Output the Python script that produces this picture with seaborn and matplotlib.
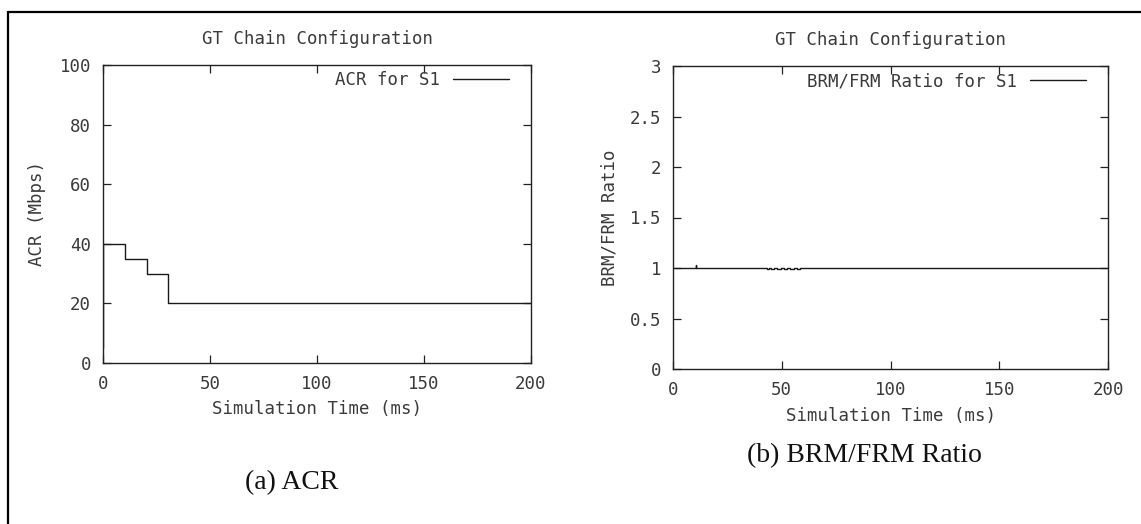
import matplotlib
matplotlib.use("Agg")
import matplotlib.pyplot as plt
from matplotlib.lines import Line2D
import pandas as pd
import seaborn as sns

# ACR of source S1 (step changes over simulation time)
acr_time = [0.0, 0.0, 10.2, 20.5, 30.5, 200.0]
acr_mbps = [5.0, 40.0, 35.0, 30.0, 20.0, 20.0]

# BRM/FRM ratio of source S1
ratio_time = [0.0, 10.0, 10.4, 10.8, 43.0, 44.0, 45.0, 46.5, 48.0, 49.5, 51.0,
              52.5, 54.0, 55.5, 57.0, 58.5, 60.2, 137.5, 200.0]
ratio_val = [1.0, 1.0, 1.03, 1.0, 0.993, 1.0, 0.993, 1.0, 0.993, 1.0, 0.993,
             1.0, 0.993, 1.0, 0.993, 1.0, 0.996, 1.0, 1.0]

x_ticks = [0, 50, 100, 150, 200]
acr_ticks = [0, 20, 40, 60, 80, 100]
ratio_ticks = [0, 0.5, 1, 1.5, 2, 2.5, 3]
ratio_tick_labels = ["0", "0.5", "1", "1.5", "2", "2.5", "3"]

plot_title = "GT Chain Configuration"
x_label = "Simulation Time (ms)"

sns.set_theme(style="white")
plt.rcParams["font.family"] = ["DejaVu Sans Mono", "DejaVu Sans"]
plt.rcParams["text.color"] = "#3a3a3a"
plt.rcParams["axes.labelcolor"] = "#3a3a3a"

W, H = 1141, 524
fig = plt.figure(figsize=(W / 100, H / 100), dpi=100)
fig.patch.set_facecolor("white")


def px_rect(x0, y0, x1, y1):
    return [x0 / W, 1 - y1 / H, (x1 - x0) / W, (y1 - y0) / H]


ax1 = fig.add_axes(px_rect(103, 65, 531, 363))
ax2 = fig.add_axes(px_rect(673, 66, 1108, 369))

line_color = "#1a1a1a"
text_color = "#3a3a3a"
fs = 12.5

acr_df = pd.DataFrame({"time": acr_time, "acr": acr_mbps})
sns.lineplot(data=acr_df, x="time", y="acr", ax=ax1, drawstyle="steps-post",
             color=line_color, linewidth=1.0, label="ACR for S1",
             estimator=None, sort=False)

ratio_df = pd.DataFrame({"time": ratio_time, "ratio": ratio_val})
sns.lineplot(data=ratio_df, x="time", y="ratio", ax=ax2, drawstyle="steps-post",
             color=line_color, linewidth=1.0, label="BRM/FRM Ratio for S1",
             estimator=None, sort=False)

ax1.set_xlim(0, 200)
ax1.set_ylim(0, 100)
ax1.set_xticks(x_ticks)
ax1.set_yticks(acr_ticks)
ax1.set_ylabel("ACR (Mbps)", fontsize=fs, labelpad=10)
ax1.set_xlabel(x_label, fontsize=fs, labelpad=5)

ax2.set_xlim(0, 200)
ax2.set_ylim(0, 3)
ax2.set_xticks(x_ticks)
ax2.set_yticks(ratio_ticks)
ax2.set_yticklabels(ratio_tick_labels)
ax2.set_ylabel("BRM/FRM Ratio", fontsize=fs, labelpad=8)
ax2.set_xlabel(x_label, fontsize=fs, labelpad=6)

for ax, ww, hh in ((ax1, 428, 298), (ax2, 435, 303)):
    ax.set_facecolor("white")
    ax.set_title(plot_title, fontsize=fs, color=text_color, pad=15)
    ax.tick_params(direction="in", length=5.8, width=0.9, color="#222222",
                   top=True, right=True, bottom=True, left=True,
                   labelsize=fs, labelcolor=text_color, pad=8.5)
    for sp in ax.spines.values():
        sp.set_visible(True)
        sp.set_color("#222222")
        sp.set_linewidth(1.0)
    ax.legend(loc="upper right", frameon=False, markerfirst=False,
              fontsize=fs, handlelength=3.2, handletextpad=0.8,
              borderpad=0, borderaxespad=0,
              bbox_to_anchor=(1 - 22 / ww, 1 - 6.0 / hh))

# panel captions
fig.text(292 / W, 1 - 483 / H, "(a) ACR", family="Liberation Serif",
         fontsize=20, color="#111111", ha="center", va="center")
fig.text(864 / W, 1 - 456 / H, "(b) BRM/FRM Ratio", family="Liberation Serif",
         fontsize=20, color="#111111", ha="center", va="center")

# surrounding frame
fig.add_artist(Line2D([8 / W, 1.0], [1 - 12 / H, 1 - 12 / H],
                      transform=fig.transFigure, color="black", linewidth=1.6))
fig.add_artist(Line2D([8 / W, 8 / W], [1 - 12 / H, 0.0],
                      transform=fig.transFigure, color="black", linewidth=1.6))

fig.savefig("out.png", dpi=100, facecolor="white")
